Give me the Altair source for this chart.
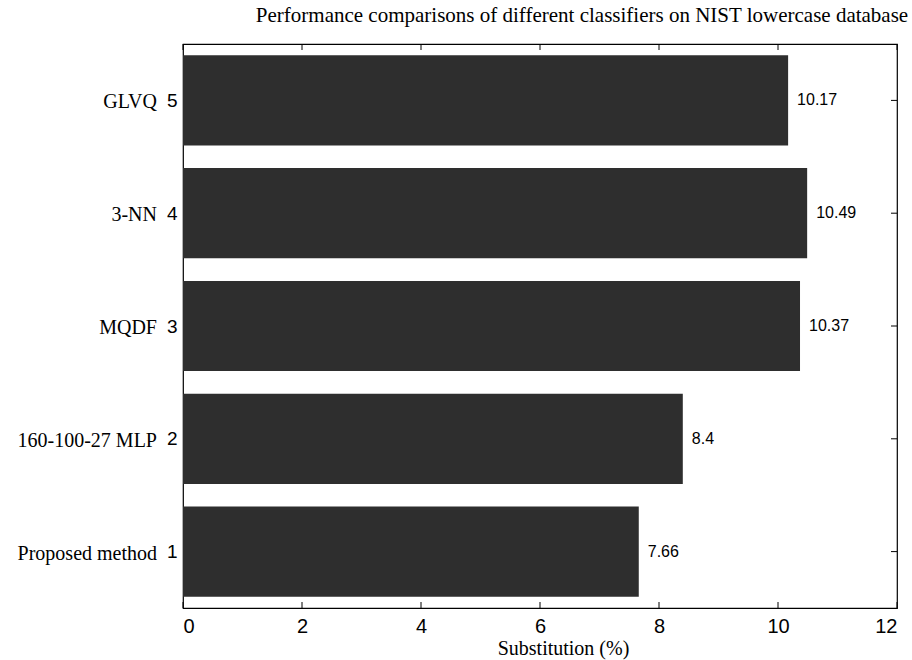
import altair as alt
import pandas as pd

methods = ["Proposed method", "160-100-27 MLP", "MQDF", "3-NN", "GLVQ"]
positions = [1, 2, 3, 4, 5]
values = [7.66, 8.4, 10.37, 10.49, 10.17]
labels = ["7.66", "8.4", "10.37", "10.49", "10.17"]
x_ticks = [0, 2, 4, 6, 8, 10, 12]

df = pd.DataFrame({"method": methods, "pos": positions, "value": values, "label": labels})
xt = pd.DataFrame({"x": x_ticks})
yt = pd.DataFrame({"y": positions})

xs = alt.Scale(domain=[0, 12], nice=False, zero=False)
ys = alt.Scale(domain=[0.5, 5.5], nice=False, zero=False)

x_axis = alt.Axis(values=x_ticks, title="Substitution (%)", format="d", titleX=380,
                  tickSize=0, domain=False, grid=False, labelFont="Liberation Sans",
                  labelFontSize=20, labelColor="black", labelPadding=8,
                  titleFont="Liberation Serif", titleFontSize=20, titleFontWeight="normal",
                  titleColor="black", titlePadding=2)
y_axis = alt.Axis(values=positions, title=None, format="d", tickSize=0, domain=False, grid=False,
                  labelFont="Liberation Sans", labelFontSize=19, labelColor="black", labelPadding=6)

bars = alt.Chart(df).mark_rect(color="#2e2e2e").encode(
    x=alt.X("value:Q", scale=xs, axis=x_axis),
    x2=alt.datum(0),
    y=alt.Y("y0:Q", scale=ys, axis=y_axis),
    y2="y1:Q",
).transform_calculate(y0="datum.pos - 0.4", y1="datum.pos + 0.4")

vals = alt.Chart(df).mark_text(align="left", baseline="middle", dx=9, font="Liberation Sans",
                               fontSize=16, color="black").encode(
    x=alt.X("value:Q", scale=xs, axis=x_axis), y=alt.Y("pos:Q", scale=ys, axis=y_axis), text="label:N")

cats = alt.Chart(df).mark_text(align="right", baseline="middle", font="Liberation Serif",
                               fontSize=20, color="black", dy=2).encode(
    x=alt.value(-26), y=alt.Y("pos:Q", scale=ys, axis=y_axis), text="method:N")

tick_top = alt.Chart(xt).mark_rule(color="black").encode(
    x=alt.X("x:Q", scale=xs, axis=x_axis), y=alt.value(0), y2=alt.value(6))
tick_bot = alt.Chart(xt).mark_rule(color="black").encode(
    x=alt.X("x:Q", scale=xs, axis=x_axis), y=alt.value(564), y2=alt.value(558))
tick_right = alt.Chart(yt).mark_rule(color="black").encode(
    y=alt.Y("y:Q", scale=ys, axis=y_axis), x=alt.value(714), x2=alt.value(708))

chart = alt.layer(bars, vals, cats, tick_top, tick_bot, tick_right).properties(
    width=714, height=564,
    title=alt.TitleParams("Performance comparisons of different classifiers on NIST lowercase database",
                          font="Liberation Serif", fontSize=21, fontWeight="normal", color="black",
                          anchor="middle", dx=42, offset=18),
    autosize=alt.AutoSizeParams(type="none"),
    padding={"left": 183, "top": 44, "right": 15, "bottom": 52},
    background="white",
).configure_view(stroke="black", strokeWidth=1.2)

chart.save("out.html", embed_options={"renderer": "svg", "actions": False})
